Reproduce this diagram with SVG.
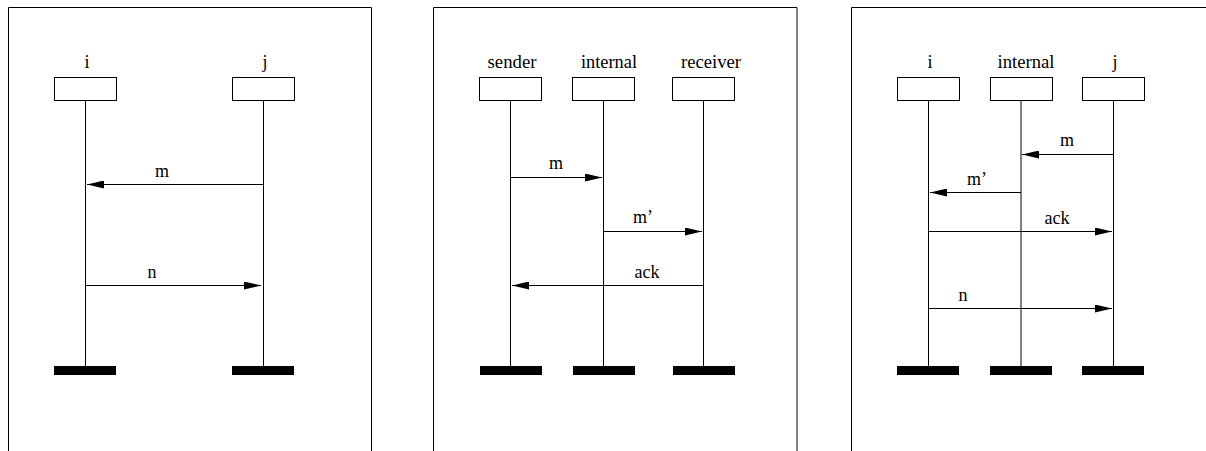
<svg xmlns="http://www.w3.org/2000/svg" width="1206" height="451" viewBox="0 0 1206 451">
<style>
.frame{fill:none;stroke:#000;stroke-width:1}
.hdr{fill:#fff;stroke:#000;stroke-width:1}
.life{stroke:#000;stroke-width:1}
.bar{fill:#000}
.msg{stroke:#000;stroke-width:1;fill:none;marker-end:url(#ah)}
.t{font-family:'Liberation Serif','DejaVu Serif',serif;font-size:18px;fill:#000;text-anchor:middle}
</style>
<defs>
<marker id="ah" markerUnits="userSpaceOnUse" markerWidth="17" markerHeight="8" refX="17" refY="4" orient="auto">
<path d="M0,0 L17,4 L0,8 z" fill="#000"/>
</marker>
</defs>
<rect width="1206" height="451" fill="#fff"/>
<g id="frames">
<path class="frame" d="M8.5,452 V7.5 H371.5 V452"/>
<path class="frame" d="M433.5,452 V7.5 H797 V452"/>
<path class="frame" d="M851.5,452 V7.5 H1207"/>
</g>
<g id="p1-i">
<text class="t" font-family="Liberation Serif, serif" x="87" y="68">i</text>
<rect class="hdr" x="54.5" y="77.5" width="62" height="23"/>
<line class="life" x1="85.5" y1="100" x2="85.5" y2="366"/>
<rect class="bar" x="54" y="366" width="62" height="9"/>
</g>
<g id="p1-j">
<text class="t" font-family="Liberation Serif, serif" x="265" y="68">j</text>
<rect class="hdr" x="232.5" y="77.5" width="62" height="23"/>
<line class="life" x1="263.5" y1="100" x2="263.5" y2="366"/>
<rect class="bar" x="232" y="366" width="62" height="9"/>
</g>
<g id="p2-sender">
<text class="t" font-family="Liberation Serif, serif" x="512" y="68" textLength="49" lengthAdjust="spacingAndGlyphs">sender</text>
<rect class="hdr" x="479.5" y="77.5" width="62" height="23"/>
<line class="life" x1="510.5" y1="100" x2="510.5" y2="366"/>
<rect class="bar" x="480" y="366" width="62" height="9"/>
</g>
<g id="p2-internal">
<text class="t" font-family="Liberation Serif, serif" x="609" y="68" textLength="56" lengthAdjust="spacingAndGlyphs">internal</text>
<rect class="hdr" x="572.5" y="77.5" width="62" height="23"/>
<line class="life" x1="603.5" y1="100" x2="603.5" y2="366"/>
<rect class="bar" x="573" y="366" width="62" height="9"/>
</g>
<g id="p2-receiver">
<text class="t" font-family="Liberation Serif, serif" x="711" y="68" textLength="60" lengthAdjust="spacingAndGlyphs">receiver</text>
<rect class="hdr" x="672.5" y="77.5" width="62" height="23"/>
<line class="life" x1="703.5" y1="100" x2="703.5" y2="366"/>
<rect class="bar" x="673" y="366" width="62" height="9"/>
</g>
<g id="p3-i">
<text class="t" font-family="Liberation Serif, serif" x="930" y="68">i</text>
<rect class="hdr" x="897.5" y="77.5" width="62" height="23"/>
<line class="life" x1="928.5" y1="100" x2="928.5" y2="366"/>
<rect class="bar" x="897" y="366" width="62" height="9"/>
</g>
<g id="p3-internal">
<text class="t" font-family="Liberation Serif, serif" x="1026" y="68" textLength="57" lengthAdjust="spacingAndGlyphs">internal</text>
<rect class="hdr" x="990.5" y="77.5" width="62" height="23"/>
<line class="life" x1="1021" y1="100" x2="1021" y2="366"/>
<rect class="bar" x="990" y="366" width="62" height="9"/>
</g>
<g id="p3-j">
<text class="t" font-family="Liberation Serif, serif" x="1115" y="68">j</text>
<rect class="hdr" x="1082.5" y="77.5" width="62" height="23"/>
<line class="life" x1="1113.5" y1="100" x2="1113.5" y2="366"/>
<rect class="bar" x="1082" y="366" width="62" height="9"/>
</g>
<g id="connectors">
<line class="msg" x1="263.5" y1="184.5" x2="87" y2="184.5"/>
<text class="t" font-family="Liberation Serif, serif" x="162" y="177">m</text>
<line class="msg" x1="85.5" y1="285.5" x2="261" y2="285.5"/>
<text class="t" font-family="Liberation Serif, serif" x="152" y="278">n</text>
<line class="msg" x1="510.5" y1="177.5" x2="602" y2="177.5"/>
<text class="t" font-family="Liberation Serif, serif" x="556" y="169">m</text>
<line class="msg" x1="603.5" y1="231.5" x2="702" y2="231.5"/>
<text class="t" font-family="Liberation Serif, serif" x="643" y="223">m’</text>
<line class="msg" x1="703.5" y1="285.5" x2="512" y2="285.5"/>
<text class="t" font-family="Liberation Serif, serif" x="647" y="278">ack</text>
<line class="msg" x1="1113.5" y1="154.5" x2="1022" y2="154.5"/>
<text class="t" font-family="Liberation Serif, serif" x="1067" y="146">m</text>
<line class="msg" x1="1021" y1="192.5" x2="930" y2="192.5"/>
<text class="t" font-family="Liberation Serif, serif" x="977" y="185">m’</text>
<line class="msg" x1="928.5" y1="231.5" x2="1112" y2="231.5"/>
<text class="t" font-family="Liberation Serif, serif" x="1057" y="224">ack</text>
<line class="msg" x1="928.5" y1="308.5" x2="1112" y2="308.5"/>
<text class="t" font-family="Liberation Serif, serif" x="963" y="301">n</text>
</g>
</svg>
